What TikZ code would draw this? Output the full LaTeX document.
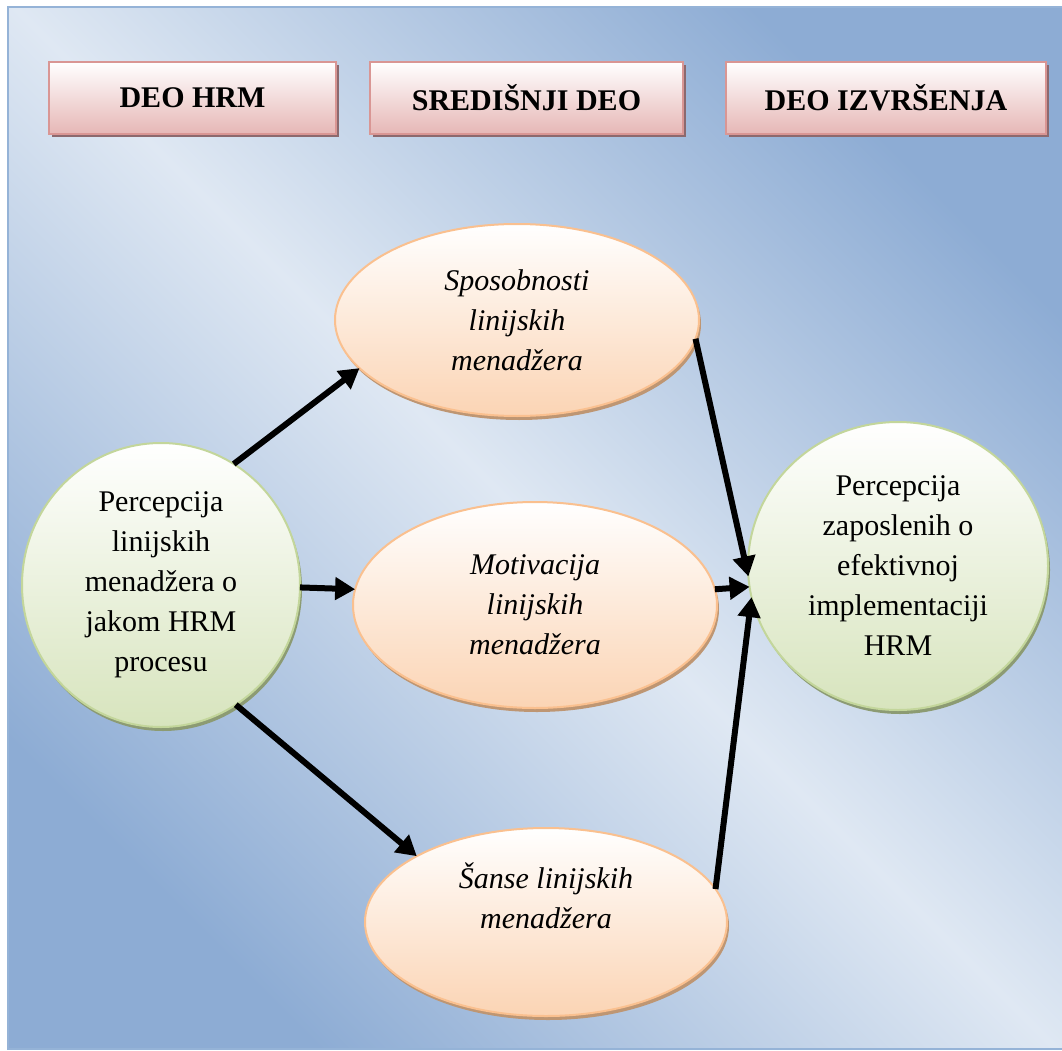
\documentclass[tikz,border=0pt]{standalone}
\usepackage{fontspec}
\setmainfont{Liberation Serif}
\usetikzlibrary{shapes,arrows.meta,shadows}

\definecolor{bgdark}{RGB}{141,172,212}
\definecolor{bglight}{RGB}{223,232,243}
\definecolor{frameblue}{RGB}{149,179,215}
\definecolor{headbot}{RGB}{230,183,182}
\definecolor{headline}{RGB}{217,150,148}
\definecolor{headshadow}{RGB}{140,105,110}
\definecolor{ovalbot}{RGB}{251,212,180}
\definecolor{ovalline}{RGB}{250,192,143}
\definecolor{ovalshadow}{RGB}{190,150,115}
\definecolor{roundbot}{RGB}{215,228,189}
\definecolor{roundline}{RGB}{195,214,155}
\definecolor{roundshadow}{RGB}{140,155,115}

\begin{document}
\begin{tikzpicture}[x=1pt,y=-1pt]
					\tikzstyle{every node}=[font=\fontsize{30}{40}\selectfont, inner sep=0pt, outer sep=0pt, align=center]
					\tikzstyle{headbox}=[rectangle, draw=headline, line width=2pt, top color=white, bottom color=headbot, minimum height=72pt, font=\fontsize{30}{40}\selectfont\bfseries, drop shadow={shadow xshift=3pt, shadow yshift=-3pt, fill=headshadow, opacity=1}]
					\tikzstyle{oval}=[ellipse, draw=ovalline, line width=2pt, top color=white, bottom color=ovalbot, font=\fontsize{30}{40}\selectfont\itshape, drop shadow={shadow xshift=2pt, shadow yshift=-4pt, fill=ovalshadow, opacity=1}]
					\tikzstyle{roundbox}=[ellipse, draw=roundline, line width=2pt, top color=white, bottom color=roundbot, drop shadow={shadow xshift=2pt, shadow yshift=-4pt, fill=roundshadow, opacity=1}]
					\tikzstyle{arr}=[line width=6pt, -{Triangle[length=20pt,width=22pt]}]
					
					\useasboundingbox (0,0) rectangle (1062,1051);
					
					% Background panel
					\shade[top color=bgdark, bottom color=bgdark, middle color=bglight, shading angle=-45] (8,7) rectangle (1063,1049);
					\draw[frameblue, line width=2pt] (8,7) rectangle (1063,1049);
					
					% Column headers
					\node[headbox, minimum width=287pt] (dh) at (192.5,98) {DEO HRM};
					\node[headbox, minimum width=313pt] (sd) at (526.5,98) {SREDIŠNJI DEO};
					\node[headbox, minimum width=320pt] (di) at (886,98) {DEO IZVRŠENJA};
					
					% Perception circles
					\node[roundbox, minimum width=278pt, minimum height=284pt] (pl) at (161,585) {Percepcija\\ linijskih\\ menadžera o\\ jakom HRM\\ procesu};
					\node[roundbox, minimum width=300pt, minimum height=288pt] (pz) at (898,566) {Percepcija\\ zaposlenih o\\ efektivnoj\\ implementaciji\\ HRM};
					
					% Middle ovals
					\node[oval, minimum width=364pt, minimum height=192pt] (sp) at (517,320) {Sposobnosti\\ linijskih\\ menadžera};
					\node[oval, minimum width=364pt, minimum height=206pt] (mo) at (535,605) {Motivacija\\ linijskih\\ menadžera};
					\node[oval, minimum width=362pt, minimum height=188pt] (sa) at (546,922) {Šanse linijskih\\ menadžera\\ \strut};
					
					% Arrows
					\draw[arr] (pl.59) -- (sp.197);
					\draw[arr] (pl.-1) -- (mo.175);
					\draw[arr] (pl.-58) -- (sa.153);
					\draw[arr] (sp.354) -- (pz.184);
					\draw[arr] (mo.5) -- (pz.188);
					\draw[arr] (sa.11) -- (pz.192);
					
\end{tikzpicture}
\end{document}
